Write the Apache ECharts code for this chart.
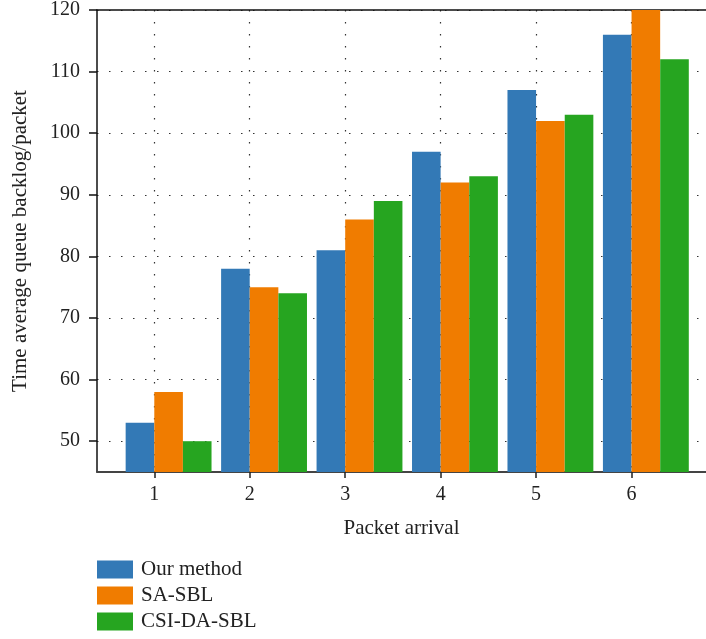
<!DOCTYPE html>
<html>
<head>
<meta charset="utf-8">
<script src="https://cdn.jsdelivr.net/npm/echarts@6/dist/echarts.min.js"></script>
<style>html,body{margin:0;padding:0;background:#fff}#c{width:706px;height:639px}</style>
</head>
<body>
<div id="c"></div>
<script>
const categories = [1, 2, 3, 4, 5, 6];
const ourMethod = [53, 78, 81, 97, 107, 116];
const saSBL = [58, 75, 86, 92, 102, 120];
const csiDaSBL = [50, 74, 89, 93, 103, 112];
const yTicks = [50, 60, 70, 80, 90, 100, 110, 120];
const seriesNames = ['Our method', 'SA-SBL', 'CSI-DA-SBL'];
const colors = ['#3379b6', '#f07c00', '#26a520'];

const font = 'Liberation Serif';
const offsets = [-0.15, 0.15, 0.45];
const seriesData = [ourMethod, saSBL, csiDaSBL];

const chart = echarts.init(document.getElementById('c'));
const dotted = { color: '#333', width: 1.2, type: [1.5, 10.5] };

chart.setOption({
  animation: false,
  color: colors,
  grid: { left: 97, top: 10, right: 0, bottom: 167, containLabel: false },
  legend: {
    orient: 'vertical', left: 97, top: 559, height: 80, padding: 0,
    itemWidth: 36, itemHeight: 18, itemGap: 5,
    icon: 'rect',
    data: seriesNames,
    textStyle: { fontFamily: font, fontSize: 21, color: '#222', padding: [0, 0, 0, 3] }
  },
  xAxis: [{
    type: 'value', min: 0.4, max: 6.78,
    name: 'Packet arrival', nameLocation: 'middle', nameGap: 46,
    nameTextStyle: { fontFamily: font, fontSize: 21, color: '#222' },
    axisLine: { show: true, onZero: false, lineStyle: { color: '#444', width: 2 } },
    axisTick: { show: true, customValues: categories, length: 6, lineStyle: { color: '#222', width: 1.5 } },
    axisLabel: { customValues: categories, margin: 13, fontFamily: font, fontSize: 20, color: '#222' },
    splitLine: { show: true, lineStyle: dotted }
  }, {
    type: 'value', min: 0.4, max: 6.78, position: 'top',
    axisLine: { show: true, onZero: false, lineStyle: { color: '#111', width: 1.5 } },
    axisTick: { show: false }, axisLabel: { show: false }, splitLine: { show: false }
  }],
  yAxis: {
    type: 'value', min: 45, max: 120,
    name: 'Time average queue backlog/packet', nameLocation: 'middle', nameGap: 66,
    nameTextStyle: { fontFamily: font, fontSize: 21, color: '#222' },
    axisLine: { show: true, onZero: false, lineStyle: { color: '#111', width: 1.5 } },
    axisTick: { show: true, customValues: yTicks, length: 8, lineStyle: { color: '#111', width: 1.5 } },
    axisLabel: { customValues: yTicks, margin: 17, fontFamily: font, fontSize: 20, color: '#222' },
    splitLine: { show: true, lineStyle: dotted }
  },
  series: seriesNames.map((name, i) => ({
    name: name,
    type: 'bar',
    xAxisIndex: 0,
    barWidth: 28.6,
    barGap: '-100%',
    itemStyle: { color: colors[i] },
    data: categories.map((c, j) => [c + offsets[i], seriesData[i][j]])
  }))
});
</script>
</body>
</html>
